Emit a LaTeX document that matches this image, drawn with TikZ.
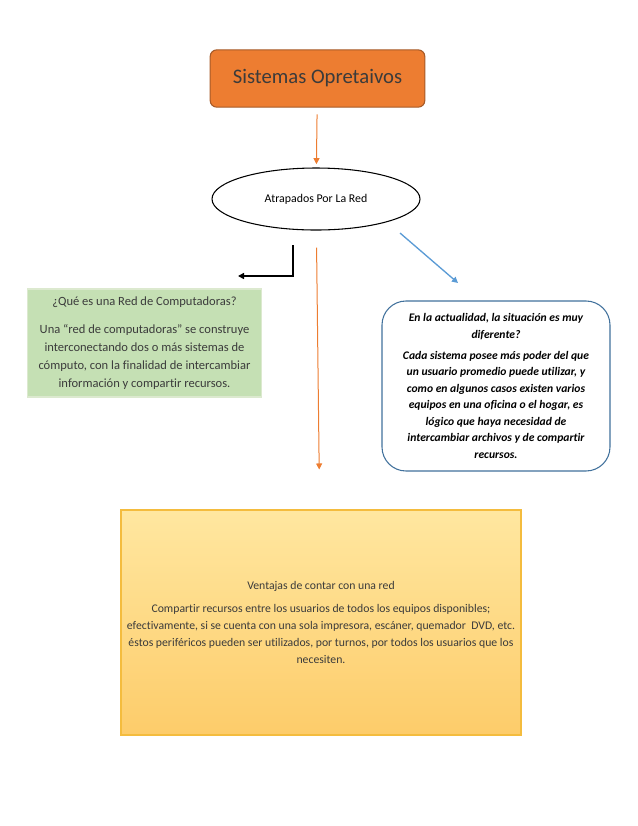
\documentclass[tikz,border=0pt]{standalone}
\usepackage{fontspec}
\setmainfont{Carlito}[Ligatures=NoCommon]
\usetikzlibrary{arrows.meta,positioning,shapes.geometric}
\definecolor{MapOrange}{HTML}{ED7D31}
\definecolor{MapRust}{HTML}{A65A28}
\definecolor{MapInk}{HTML}{3B3B3B}
\definecolor{MapGreen}{HTML}{C5E0B4}
\definecolor{MapGreenEdge}{HTML}{DCE9CF}
\definecolor{MapBlue}{HTML}{5B9BD5}
\definecolor{MapSteel}{HTML}{41719C}
\definecolor{MapGoldTop}{HTML}{FFE7A0}
\definecolor{MapGoldBot}{HTML}{FDCC6A}
\definecolor{MapGoldEdge}{HTML}{F4BC3E}
\tikzset{
  titlebox/.style={draw=MapRust,fill=MapOrange,line width=0.8pt,rounded corners=5pt,
    minimum width=161pt,minimum height=43pt,text=MapInk,font=\fontsize{15.5}{18}\selectfont},
  topicoval/.style={draw,ellipse,line width=0.8pt,minimum width=156pt,minimum height=46.5pt,
    inner sep=0pt,font=\fontsize{8.9}{10}\selectfont},
  greennote/.style={draw=MapGreenEdge,fill=MapGreen,line width=0.8pt,align=center,
    minimum width=176pt,minimum height=81pt,text=MapInk,font=\fontsize{9.4}{13.5}\selectfont},
  bluenote/.style={draw=MapSteel,fill=white,line width=0.8pt,rounded corners=18pt,align=center,
    minimum width=171pt,minimum height=127.5pt,font=\fontsize{8.7}{12.4}\selectfont\bfseries\itshape},
  goldnote/.style={draw=MapGoldEdge,top color=MapGoldTop,bottom color=MapGoldBot,line width=0.8pt,
    align=center,minimum width=300pt,minimum height=168.75pt,text=MapInk,font=\fontsize{8.8}{12.75}\selectfont},
  orangelink/.style={->,MapOrange,line width=0.75pt},
  bluelink/.style={->,MapBlue,line width=1pt},
  blacklink/.style={->,black,line width=1.1pt},
}

\begin{document}
\begin{tikzpicture}[x=0.75pt,y=-0.75pt,>={Triangle[length=4.5pt,width=4.5pt]}]
  \useasboundingbox (0,0) rectangle (638,826);
  \node[titlebox] (sistemas) at (317.5,78.5) {Sistemas Opretaivos};
  \node[topicoval] (red) at (316,199) {Atrapados Por La Red};
  \node[greennote] (quees) at (144.5,343) {¿Qué es una Red de Computadoras?\\[7pt]
    Una “red de computadoras” se construye\\ interconectando dos o más sistemas de\\
    cómputo, con la finalidad de intercambiar\\ información y compartir recursos.};
  \node[bluenote] (actual) at (496,386) {En la actualidad, la situación es muy\\ diferente?\\[3.5pt]
    Cada sistema posee más poder del que\\ un usuario promedio puede utilizar, y\\
    como en algunos casos existen varios\\ equipos en una oficina o el hogar, es\\
    lógico que haya necesidad de\\ intercambiar archivos y de compartir\\ recursos.};
  \node[goldnote] (ventajas) at (321,622.5) {Ventajas de contar con una red\\[4.5pt]
    Compartir recursos entre los usuarios de todos los equipos disponibles;\\
    efectivamente, si se cuenta con una sola impresora, escáner, quemador\ \ DVD, etc.\\
    éstos periféricos pueden ser utilizados, por turnos, por todos los usuarios que los\\ necesiten.};
  \coordinate (elbowtop) at (293,245);
  \coordinate (elbowend) at (238,276);
  \coordinate (bluestart) at (400,233);
  \coordinate (blueend) at (458,283);
  \draw[orangelink,shorten <=5pt,shorten >=2.5pt] (sistemas) -- (red);
  \draw[orangelink,shorten <=12.75pt,shorten >=30pt] (red) -- (ventajas);
  \draw[blacklink] (elbowtop) |- (elbowend);
  \draw[bluelink] (bluestart) -- (blueend);
\end{tikzpicture}
\end{document}
